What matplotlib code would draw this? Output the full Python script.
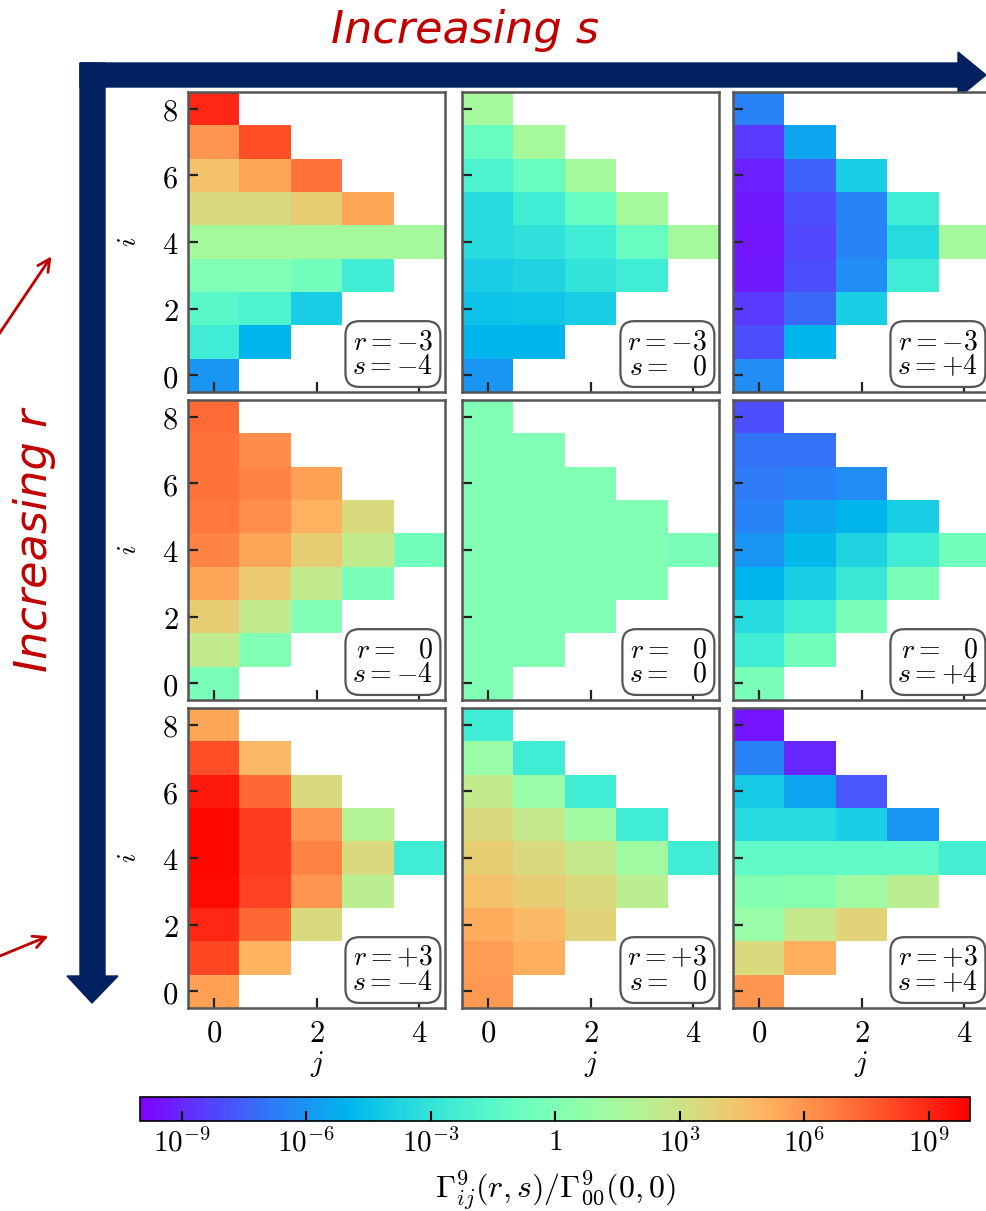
import numpy as np
import matplotlib
matplotlib.use('Agg')
import matplotlib.pyplot as plt
from matplotlib.colors import LogNorm
from matplotlib.patches import Polygon

plt.rcParams['mathtext.fontset'] = 'cm'
plt.rcParams['font.family'] = ['DejaVu Serif']

# log10 of Gamma_ij(r,s)/Gamma_00(0,0), rows i = 0..8, row i has j = 0..min(i, 8-i)
panel_r = [-3, 0, 3]
panel_s = [-4, 0, 4]

g_m3_m4 = [[-6], [-2.5, -5], [-1.5, -2, -4], [0, 0, -0.5, -2.5], [1.5, 1.5, 1.5, 1.5, 1.5],
           [3.5, 3.5, 4, 5.5], [4.5, 5.5, 7], [6, 8], [9]]
g_m3_0 = [[-6], [-5, -5], [-4.5, -4.3, -4], [-4, -3.8, -3, -2.5], [-3.5, -3.2, -2.5, -1, 1.5],
          [-3.5, -2.5, -1, 1.5], [-2, -1, 1.5], [-1, 1.5], [1.5]]
g_m3_p4 = [[-6.2], [-8, -5], [-8.5, -7.3, -4], [-9.3, -8, -6.2, -2.5], [-9.4, -8.2, -6.5, -3.5, 1.5],
           [-9.3, -8, -6.5, -2.5], [-9.2, -7.5, -4], [-8.5, -5.5], [-6.5]]

g_0_m4 = [[-0.3], [2.5, 0], [4, 2.5, 0], [5.5, 4.2, 2.5, -0.3], [6.5, 5.5, 4, 2.5, -0.5],
          [6.8, 6.2, 5, 3.5], [7, 6.5, 5.6], [7, 6.3], [7.2]]
g_0_0 = [[0], [0, 0], [0, 0, 0], [0, 0, 0, 0], [0, 0, 0, 0, -0.3],
         [0, 0, 0, 0], [0, 0, 0], [0, 0], [0]]
g_0_p4 = [[-0.3], [-2.5, -0.5], [-3.5, -2.5, -0.3], [-5, -4, -2.8, -0.3], [-6, -4.8, -3.8, -2.5, -0.5],
          [-6.5, -5.5, -5, -4], [-6.8, -6.5, -6.3], [-7, -7], [-8]]

g_p3_m4 = [[5.7], [8.2, 5], [9, 7.3, 3.5], [9.7, 8.3, 6, 2.3], [9.8, 8.5, 6.5, 3.5, -2.5],
           [9.8, 8.5, 6, 2], [9.3, 7.3, 3.5], [8, 4.8], [5.5]]
g_p3_0 = [[5.9], [5.8, 5.2], [5.3, 4.8, 3.8], [4.6, 4, 3.5, 2.3], [4, 3.5, 2.7, 1.2, -2.5],
          [3.5, 2.7, 1.3, -2.5], [2.5, 1, -2.5], [1, -2.5], [-2.5]]
g_p3_p4 = [[6], [3.5, 5.2], [1, 2.7, 3.8], [0.2, 0.3, 1.3, 2.3], [-1.3, -1.3, -1.3, -1.3, -2.3],
           [-3.5, -3.5, -4, -6], [-4.2, -5.5, -7.8], [-6.5, -9], [-9.5]]

panels = [[g_m3_m4, g_m3_0, g_m3_p4],
          [g_0_m4, g_0_0, g_0_p4],
          [g_p3_m4, g_p3_0, g_p3_p4]]

x_ticks = [0, 2, 4]
y_ticks = [0, 2, 4, 6, 8]
cbar_ticks = [1e-9, 1e-6, 1e-3, 1, 1e3, 1e6, 1e9]
cbar_labels = ['$10^{-9}$', '$10^{-6}$', '$10^{-3}$', '$1$', '$10^{3}$', '$10^{6}$', '$10^{9}$']

W, H = 987, 1211
fig = plt.figure(figsize=(W / 100, H / 100), dpi=100)

def px(l, t, w, h):
    return [l / W, 1 - (t + h) / H, w / W, h / H]

cmap = plt.get_cmap('rainbow').copy()
cmap.set_bad('white')
norm = LogNorm(1e-10, 1e10)

# overlay for the navy arrows / red notes
ov = fig.add_axes([0, 0, 1, 1], zorder=0)
ov.set_xlim(0, W)
ov.set_ylim(H, 0)
ov.axis('off')
navy = '#002060'
ov.add_patch(Polygon([(80, 63), (958, 63), (958, 52), (986, 75), (958, 98), (958, 87), (80, 87)],
                     closed=True, color=navy))
ov.add_patch(Polygon([(80, 63), (105, 63), (105, 976), (118, 976), (92, 1003), (67, 976), (80, 976)],
                     closed=True, color=navy))
red = '#C00000'
hand = ['Liberation Sans Narrow', 'DejaVu Sans']
ov.text(465, 30, 'Increasing s', color=red, fontsize=32, ha='center', va='center',
        family=hand, style='italic')
ov.text(35, 540, 'Increasing r', color=red, fontsize=32, ha='center', va='center',
        rotation=90, family=hand, style='italic')
ov.annotate('', xy=(53, 254), xytext=(-5, 340),
            arrowprops=dict(arrowstyle='->', color=red, lw=2, mutation_scale=22))
ov.annotate('', xy=(51, 935), xytext=(-5, 958),
            arrowprops=dict(arrowstyle='->', color=red, lw=2, mutation_scale=22))
ov.text(555, 1190, r'$\Gamma^9_{ij}(r,s)/\Gamma^9_{00}(0,0)$', fontsize=23,
        ha='center', va='center')

cols_left = [188, 462, 733]
rows_top = [92, 400, 708]
pw, ph = 257, 300

im = None
for ri in range(3):
    for ci in range(3):
        data = np.full((9, 5), np.nan)
        for i, row in enumerate(panels[ri][ci]):
            data[i, :len(row)] = 10.0 ** np.array(row)
        ax = fig.add_axes(px(cols_left[ci], rows_top[ri], pw, ph), zorder=2)
        im = ax.pcolormesh(np.arange(-0.5, 5.5), np.arange(-0.5, 9.5),
                           np.ma.masked_invalid(data), cmap=cmap, norm=norm)
        ax.set_xlim(-0.5, 4.5)
        ax.set_ylim(-0.5, 8.5)
        ax.set_xticks(x_ticks)
        ax.set_yticks(y_ticks)
        ax.tick_params(direction='in', length=7, width=1.6, color='#222222',
                       top=False, right=False, pad=7)
        for sp in ax.spines.values():
            sp.set_color('#555555')
            sp.set_linewidth(1.8)
        if ci == 0:
            ax.set_yticklabels([r'$\mathbf{%d}$' % v for v in y_ticks], fontsize=22)
            ax.set_ylabel('$i$', fontsize=20, labelpad=14)
        else:
            ax.set_yticklabels([])
        if ri == 2:
            ax.set_xticklabels([r'$\mathbf{%d}$' % v for v in x_ticks], fontsize=22)
            ax.set_xlabel('$j$', fontsize=21, labelpad=0)
        else:
            ax.set_xticklabels([])
        rs = lambda v: r'\enspace\;0' if v == 0 else '%+d' % v
        txt = '$r=%s$\n$s=%s$' % (rs(panel_r[ri]), rs(panel_s[ci]))
        ax.text(0.955, 0.04, txt, transform=ax.transAxes, ha='right', va='bottom',
                fontsize=20, linespacing=0.9,
                bbox=dict(boxstyle='round,pad=0.25,rounding_size=0.5', fc='white',
                          ec='#555555', lw=1.6))

cax = fig.add_axes(px(140, 1097, 830, 24), zorder=2)
cb = fig.colorbar(im, cax=cax, orientation='horizontal')
cb.minorticks_off()
cax.set_xticks(cbar_ticks)
cax.set_xticklabels(cbar_labels, fontsize=21)
cax.tick_params(direction='in', length=7, width=1.5, pad=5)
cb.outline.set_linewidth(1.2)

fig.savefig('out.png', dpi=100)
